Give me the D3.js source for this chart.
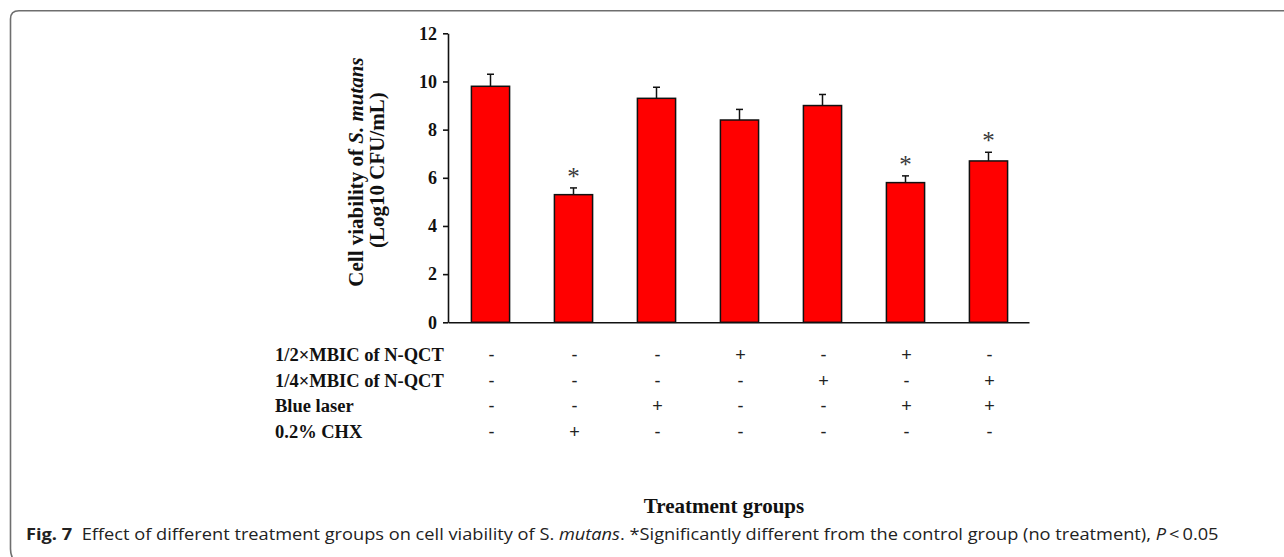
<!DOCTYPE html>
<html>
<head>
<meta charset="utf-8">
<script src="https://cdn.jsdelivr.net/npm/d3@7"></script>
<style>
  html, body { margin: 0; padding: 0; background: #fff; }
  svg { display: block; }
</style>
</head>
<body>
<svg id="chart" width="1284" height="557"></svg>
<script>
// ---- data ----
const groups = ["Control", "CHX", "Laser", "Half", "Quarter", "Half+Laser", "Quarter+Laser"];
const viability = [9.8, 5.3, 9.3, 8.4, 9.0, 5.8, 6.7];
const errors = [0.5, 0.28, 0.46, 0.44, 0.46, 0.28, 0.36];
const significant = [false, true, false, false, false, true, true];
const yTicks = [0, 2, 4, 6, 8, 10, 12];
const rowLabels = ["1/2×MBIC of N-QCT", "1/4×MBIC of N-QCT", "Blue laser", "0.2% CHX"];
const rowHalf    = ["-", "-", "-", "+", "-", "+", "-"];
const rowQuarter = ["-", "-", "-", "-", "+", "-", "+"];
const rowLaser   = ["-", "-", "+", "-", "-", "+", "+"];
const rowCHX     = ["-", "+", "-", "-", "-", "-", "-"];
const xTitle = "Treatment groups";

// ---- layout ----
const svg = d3.select("#chart");
const serif = "'Liberation Serif', 'Times New Roman', serif";
const sans = "'Liberation Sans', Arial, sans-serif";

// frame
svg.append("path")
  .attr("d", "M 1290 10.8 H 19 Q 10.5 10.8 10.5 19 V 549 Q 10.5 556 14 560")
  .attr("fill", "none").attr("stroke", "#6e6e6e").attr("stroke-width", 1.6);

const x = d3.scaleBand().domain(groups).range([448, 1029]).paddingInner(0).paddingOuter(0);
const y = d3.scaleLinear().domain([0, 12]).range([322.3, 33.3]);
const barW = x.bandwidth() * 0.46;

const g = svg.append("g");

// bars
g.selectAll("rect.bar").data(groups).join("rect")
  .attr("class", "bar")
  .attr("x", d => x(d) + x.bandwidth() / 2 - barW / 2 + 1)
  .attr("width", barW)
  .attr("y", (d, i) => y(viability[i]))
  .attr("height", (d, i) => y(0) - y(viability[i]))
  .attr("fill", "#ff0000")
  .attr("stroke", "#111").attr("stroke-width", 1.5);

// error bars
const cx = d => x(d) + x.bandwidth() / 2 + 1;
g.selectAll("line.err").data(groups).join("line")
  .attr("x1", cx).attr("x2", cx)
  .attr("y1", (d, i) => y(viability[i]))
  .attr("y2", (d, i) => y(viability[i] + errors[i]))
  .attr("stroke", "#111").attr("stroke-width", 1.5);
g.selectAll("line.cap").data(groups).join("line")
  .attr("x1", d => cx(d) - 3.5).attr("x2", d => cx(d) + 3.5)
  .attr("y1", (d, i) => y(viability[i] + errors[i]))
  .attr("y2", (d, i) => y(viability[i] + errors[i]))
  .attr("stroke", "#111").attr("stroke-width", 1.5);

// significance stars
g.selectAll("text.star").data(groups.filter((d, i) => significant[i])).join("text")
  .attr("x", cx)
  .attr("y", d => { const i = groups.indexOf(d); return y(viability[i] + errors[i]) - 3; })
  .attr("text-anchor", "middle")
  .attr("font-family", serif).attr("font-size", 25).attr("fill", "#3a3a3a")
  .text("*");

// y axis
const yAxis = g.append("g").attr("transform", "translate(448,0)")
  .call(d3.axisLeft(y).tickValues(yTicks).tickSize(5).tickPadding(6).tickSizeOuter(0));
yAxis.select(".domain").attr("stroke", "#111").attr("stroke-width", 1.6);
yAxis.selectAll(".tick line").attr("stroke", "#111").attr("stroke-width", 1.6);
yAxis.selectAll(".tick text").attr("font-family", serif).attr("font-weight", "bold")
  .attr("font-size", 18).attr("fill", "#111");

// x axis baseline
const xAxis = g.append("g").attr("transform", "translate(0," + y(0) + ")")
  .call(d3.axisBottom(x).tickSize(0).tickFormat(""));
xAxis.select(".domain").attr("stroke", "#111").attr("stroke-width", 1.6);

// y title
const yt1 = svg.append("text")
  .attr("transform", "translate(356,172) rotate(-90)")
  .attr("text-anchor", "middle").attr("dy", "0.35em")
  .attr("font-family", serif).attr("font-weight", "bold").attr("font-size", 21).attr("fill", "#111");
yt1.append("tspan").text("Cell viability of ");
yt1.append("tspan").attr("font-style", "italic").text("S. mutans");
svg.append("text")
  .attr("transform", "translate(377,170) rotate(-90)")
  .attr("text-anchor", "middle").attr("dy", "0.35em")
  .attr("font-family", serif).attr("font-weight", "bold").attr("font-size", 21).attr("fill", "#111")
  .text("(Log10 CFU/mL)");

// treatment table
const rows = [rowHalf, rowQuarter, rowLaser, rowCHX];
const rowY = d3.scaleLinear().domain([0, 3]).range([361, 438]);
rows.forEach((r, ri) => {
  svg.append("text")
    .attr("x", 275).attr("y", rowY(ri))
    .attr("font-family", serif).attr("font-weight", "bold").attr("font-size", 18.5).attr("fill", "#111")
    .text(rowLabels[ri]);
  svg.selectAll(null).data(r).join("text")
    .attr("x", (d, i) => cx(groups[i]) + 1)
    .attr("y", rowY(ri))
    .attr("text-anchor", "middle")
    .attr("font-family", sans).attr("font-size", 18).attr("fill", "#222")
    .text(d => d);
});

// x title
svg.append("text")
  .attr("x", 724).attr("y", 513)
  .attr("text-anchor", "middle")
  .attr("font-family", serif).attr("font-weight", "bold").attr("font-size", 21).attr("fill", "#111")
  .text(xTitle);

// caption
const cap = svg.append("text")
  .attr("x", 0).attr("y", 0)
  .attr("font-family", "'Open Sans', 'Noto Sans', sans-serif").attr("font-size", 15.5).attr("fill", "#222");
cap.append("tspan").attr("font-weight", "bold").text("Fig. 7");
cap.append("tspan").text("\u00a0\u00a0Effect of different treatment groups on cell viability of S. ");
cap.append("tspan").attr("font-style", "italic").text("mutans");
cap.append("tspan").text(". *Significantly different from the control group (no treatment), ");
cap.append("tspan").attr("font-style", "italic").text("P");
cap.append("tspan").text("\u2009<\u20090.05");
const w = cap.node().getBBox().width;
const sx = (1220 - 26) / w;
cap.attr("transform", "translate(26,539.5) scale(" + sx + ",1)");
</script>
</body>
</html>
